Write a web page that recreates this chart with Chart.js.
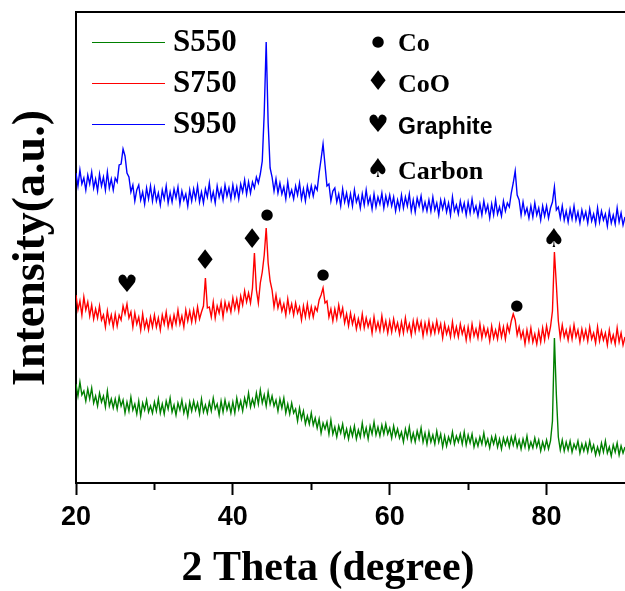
<!DOCTYPE html>
<html>
<head>
<meta charset="utf-8">
<script src="https://cdn.jsdelivr.net/npm/chart.js@4.4.0/dist/chart.umd.min.js"></script>
<style>
  html, body { margin: 0; padding: 0; background: #fff; }
  #wrap { width: 625px; height: 591px; }
</style>
</head>
<body>
<div id="wrap"><canvas id="xrd" width="625" height="591"></canvas></div>
<script>
// scan grid (2 theta, degree)
var thetaStart = 20;
var thetaStep = 0.25;

var sampleNames = ['S550', 'S750', 'S950'];
var sampleColors = ['rgb(0,128,0)', 'rgb(255,0,0)', 'rgb(0,0,255)'];

// intensities (a.u.), one value per 0.25 degree from 20 to 90
var intensityS550 = [
  99,87,101,88,92,82,94,84,95,80,87,77,90,81,87,76,92,77,84,75,
  84,74,86,77,83,70,81,72,86,73,79,69,82,67,80,73,83,71,77,70,
  81,72,84,70,79,69,82,74,85,71,78,68,80,73,83,70,78,67,81,72,
  82,73,80,69,84,71,78,70,81,72,85,74,79,68,82,71,83,73,80,70,
  81,70,85,74,82,72,85,77,90,76,84,77,90,79,93,80,88,77,91,79,
  87,77,83,72,84,75,85,70,79,69,80,70,74,62,75,64,72,59,67,59,
  70,58,65,55,64,50,60,54,61,49,63,49,56,46,57,50,59,46,54,44,
  55,47,57,44,53,46,60,47,55,44,57,49,61,48,56,47,58,49,59,49,
  55,45,57,47,54,45,51,41,54,45,56,42,50,41,52,44,55,41,50,39,
  51,41,48,39,52,41,49,36,47,37,46,40,51,39,47,41,49,39,51,38,
  48,40,49,36,44,37,46,39,50,38,44,35,46,39,47,36,44,34,45,38,
  45,36,46,38,47,36,43,34,44,36,47,34,41,35,45,36,43,32,41,34,
  43,34,42,62,145,88,46,33,43,32,41,33,42,31,39,34,42,30,39,32,
  40,31,42,32,38,28,36,29,40,31,42,30,36,27,38,31,40,28,37,30,
  36
];
var intensityS750 = [
  188,173,182,168,186,173,181,167,178,164,174,165,177,163,168,156,172,160,168,156,
  169,157,168,163,177,169,179,165,171,156,170,159,166,153,169,155,163,153,166,156,
  168,156,165,153,168,159,171,156,166,156,168,159,173,159,167,156,173,162,172,161,
  173,162,176,164,171,177,205,175,176,166,181,165,177,170,181,166,181,172,180,171,
  185,174,184,172,187,178,192,181,190,180,195,230,193,180,200,211,228,255,220,202,
  193,176,188,175,183,172,179,168,184,171,179,168,180,170,176,163,177,166,179,166,
  176,166,176,172,183,188,195,180,182,166,174,162,174,164,178,167,175,160,169,157,
  170,159,167,154,164,155,169,155,165,156,163,150,166,153,161,152,167,153,162,150,
  162,151,164,153,160,149,161,150,165,152,159,148,162,151,163,153,161,147,160,150,
  162,149,159,150,162,151,159,145,159,149,156,146,161,147,156,146,159,149,156,143,
  156,144,159,147,154,145,159,145,156,147,154,142,157,145,153,144,158,146,156,144,
  158,151,162,169,163,148,156,145,152,139,153,142,155,141,149,139,152,141,155,143,
  157,146,156,172,231,198,162,145,158,146,153,143,155,144,158,146,153,141,154,144,
  153,142,156,144,150,140,156,142,152,143,150,138,153,141,148,139,155,141,150,138,
  146
];
var intensityS950 = [
  310,297,313,299,305,293,308,299,311,295,304,292,309,297,306,293,311,295,304,293,
  305,301,318,319,334,327,310,306,291,298,282,293,298,283,291,279,295,284,297,282,
  295,282,290,278,293,284,297,280,291,281,294,285,296,279,292,283,289,277,293,282,
  294,284,297,281,291,280,294,286,300,283,291,280,297,286,294,283,298,287,295,284,
  298,286,296,284,299,291,303,289,301,290,301,295,306,300,309,322,370,441,360,315,
  306,292,304,290,300,289,296,284,301,287,293,284,297,288,300,284,294,282,297,287,
  297,287,297,293,310,324,339,318,297,299,282,292,295,281,289,277,294,281,290,278,
  289,277,293,281,287,275,289,278,293,279,286,274,289,276,286,279,290,275,287,278,
  288,277,286,272,283,274,288,275,286,277,289,272,283,271,285,277,287,273,281,272,
  283,272,286,273,280,268,283,274,283,271,280,268,286,272,278,269,282,272,280,268,
  281,270,284,271,277,267,279,268,282,271,278,265,279,268,283,269,276,267,282,272,
  280,276,290,300,312,288,283,268,281,269,275,265,277,266,280,268,275,263,277,267,
  277,265,275,281,296,273,276,265,277,263,272,261,274,264,277,263,271,260,273,264,
  271,260,274,262,269,259,275,261,272,263,269,257,272,260,268,259,275,261,270,258,
  266
];

var xTicks = [20, 40, 60, 80];
var xMinorTicks = [30, 50, 70];

var phaseNames = ['Co', 'CoO', 'Graphite', 'Carbon'];
var phaseSymbols = ['\u25CF', '\u2666', '\u2665', '\u2660'];

// peak markers: phase index, 2 theta, height (a.u.)
var markerPhase = [2, 1, 1, 0, 0, 0, 3];
var markerTheta = [26.5, 36.45, 42.45, 44.35, 51.5, 76.2, 80.95];
var markerLevel = [197, 221, 242, 268, 208, 177, 243];

var seriesValues = [intensityS550, intensityS750, intensityS950];

function toPoints(values) {
  var pts = [];
  for (var i = 0; i < values.length; i++) {
    pts.push({ x: thetaStart + i * thetaStep, y: values[i] });
  }
  return pts;
}

var datasets = [];
for (var s = 0; s < sampleNames.length; s++) {
  datasets.push({
    label: sampleNames[s],
    data: toPoints(seriesValues[s]),
    borderColor: sampleColors[s],
    borderWidth: 1.4,
    pointRadius: 0,
    tension: 0,
    fill: false
  });
}

var serifBold = 'bold %spx "Liberation Serif", "Times New Roman", serif';
var sansBold = 'bold %spx "Liberation Sans", Arial, sans-serif';
function font(tpl, size) { return tpl.replace('%s', size); }

// glyph size per phase symbol
var symbolSize = [15, 27, 24, 26];
function symbolFont(p) { return symbolSize[p] + 'px "DejaVu Sans", sans-serif'; }

var decorations = {
  id: 'decorations',
  afterDraw: function(chart) {
    var ctx = chart.ctx;
    var area = chart.chartArea;
    var xs = chart.scales.x;
    var ys = chart.scales.y;
    ctx.save();

    // top frame line
    ctx.strokeStyle = '#000';
    ctx.lineWidth = 2;
    ctx.beginPath();
    ctx.moveTo(area.left - 1, area.top);
    ctx.lineTo(area.right, area.top);
    ctx.stroke();

    // minor ticks
    xMinorTicks.forEach(function(v) {
      var px = Math.round(xs.getPixelForValue(v)) + 0.5;
      ctx.beginPath();
      ctx.moveTo(px, area.bottom);
      ctx.lineTo(px, area.bottom + 7);
      ctx.stroke();
    });

    // axis titles
    ctx.fillStyle = '#000';
    ctx.textAlign = 'center';
    ctx.textBaseline = 'alphabetic';
    ctx.font = font(serifBold, 42);
    ctx.fillText('2 Theta (degree)', 328, 580);

    ctx.save();
    ctx.translate(44, 248);
    ctx.rotate(-Math.PI / 2);
    ctx.font = font(serifBold, 46);
    ctx.fillText('Intensity(a.u.)', 0, 0);
    ctx.restore();

    // sample legend
    ctx.textAlign = 'left';
    ctx.textBaseline = 'middle';
    for (var i = 0; i < sampleNames.length; i++) {
      var y = 42 + i * 41;
      ctx.strokeStyle = sampleColors[i];
      ctx.lineWidth = 1;
      ctx.beginPath();
      ctx.moveTo(92, y + 0.5);
      ctx.lineTo(165, y + 0.5);
      ctx.stroke();
      ctx.fillStyle = '#000';
      ctx.font = font(serifBold, 31);
      ctx.fillText(sampleNames[i], 173, y + 1);
    }

    // phase key
    var keyY = [42, 83, 126, 170];
    phaseNames.forEach(function(name, k) {
      ctx.fillStyle = '#000';
      ctx.textAlign = 'center';
      ctx.font = symbolFont(k);
      ctx.fillText(phaseSymbols[k], 378, keyY[k]);
      ctx.textAlign = 'left';
      ctx.font = name === 'Graphite' ? font(sansBold, 23) : font(serifBold, 26);
      ctx.fillText(name, 398, keyY[k] + 2);
    });

    // peak markers
    ctx.textAlign = 'center';
    for (var m = 0; m < markerTheta.length; m++) {
      var p = markerPhase[m];
      ctx.font = symbolFont(p);
      ctx.fillText(phaseSymbols[p], xs.getPixelForValue(markerTheta[m]), ys.getPixelForValue(markerLevel[m]));
    }

    ctx.restore();
  }
};

new Chart(document.getElementById('xrd').getContext('2d'), {
  type: 'line',
  data: { datasets: datasets },
  options: {
    responsive: false,
    animation: false,
    devicePixelRatio: 1,
    layout: { padding: { top: 12, right: 0, left: 0, bottom: 0 } },
    plugins: {
      legend: { display: false },
      tooltip: { enabled: false }
    },
    scales: {
      x: {
        type: 'linear',
        min: 20,
        max: 90,
        afterBuildTicks: function(scale) {
          scale.ticks = xTicks.map(function(v) { return { value: v }; });
        },
        afterFit: function(scale) { scale.height = 108; },
        border: { display: true, color: '#000', width: 2 },
        grid: { display: true, drawOnChartArea: false, drawTicks: true, tickLength: 12, tickWidth: 2, tickColor: '#000' },
        ticks: {
          color: '#000',
          font: { family: '"Liberation Sans", Arial, sans-serif', weight: 'bold', size: 27 },
          padding: 6,
          maxRotation: 0,
          autoSkip: false
        }
      },
      y: {
        min: 0,
        max: 471,
        afterFit: function(scale) { scale.width = 76; },
        border: { display: true, color: '#000', width: 2 },
        grid: { display: false },
        ticks: { display: false }
      }
    }
  },
  plugins: [decorations]
});
</script>
</body>
</html>
